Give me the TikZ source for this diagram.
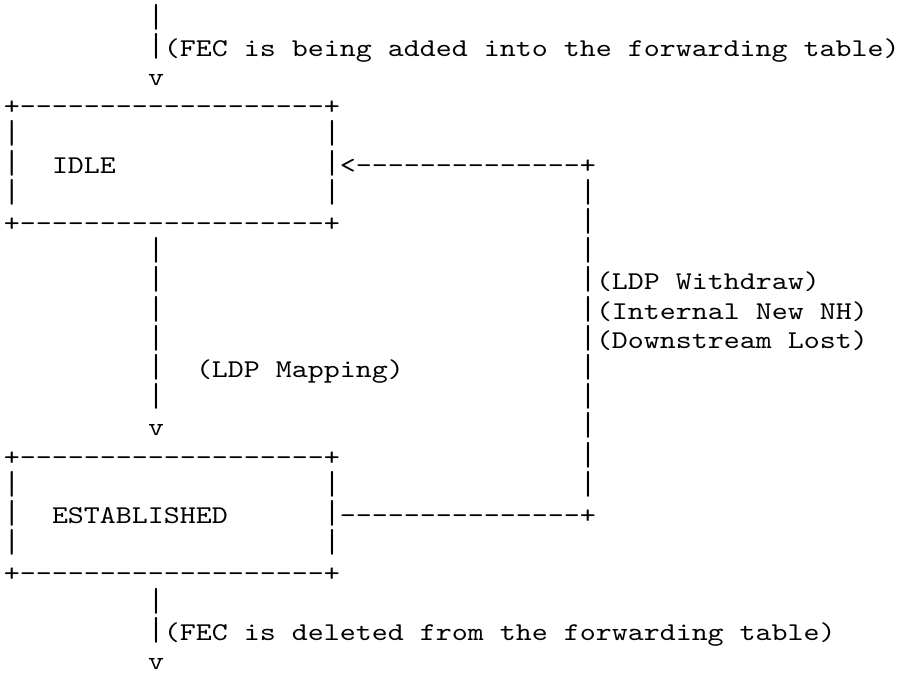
\documentclass[tikz,border=0pt]{standalone}
\usepackage{graphicx}
\usepackage{fontspec}
\setmonofont{lmmono10-regular.otf}[FakeStretch=1.19]
\newcommand{\ascfont}{\ttfamily\fontsize{25.6pt}{29.2pt}\selectfont}
\newcommand{\vb}{\raisebox{0pt}[0.72em][0.1em]{\scalebox{1}[1.3]{|}}}
\tikzset{ascii/.style={anchor=base west, inner sep=0pt, outer sep=0pt, font=\ascfont, text=black}}
% \A{name}{row}{col}{text}
\newcommand{\A}[4]{\node[ascii] (#1) at ({4pt+16pt*#3},{-27pt-29.2pt*#2}) {#4};}
\begin{document}
\begin{tikzpicture}
\useasboundingbox (0,0) rectangle (900pt,-675pt);
\A{a0}{0}{9}{\vb}
\A{a1}{1}{9}{\vb(FEC is being added into the forwarding table)}
\A{a2}{2}{9}{v}
\A{idletop}{3}{0}{+-------------------+}
\A{i4l}{4}{0}{\vb}\A{i4r}{4}{20}{\vb}
\A{i5l}{5}{0}{\vb}\A{idle}{5}{3}{IDLE}\A{i5r}{5}{20}{\vb<--------------+}
\A{i6l}{6}{0}{\vb}\A{i6r}{6}{20}{\vb}\A{r6}{6}{36}{\vb}
\A{idlebot}{7}{0}{+-------------------+}\A{r7}{7}{36}{\vb}
\A{m8}{8}{9}{\vb}\A{r8}{8}{36}{\vb}
\A{m9}{9}{9}{\vb}\A{r9}{9}{36}{\vb(LDP Withdraw)}
\A{m10}{10}{9}{\vb}\A{r10}{10}{36}{\vb(Internal New NH)}
\A{m11}{11}{9}{\vb}\A{r11}{11}{36}{\vb(Downstream Lost)}
\A{m12}{12}{9}{\vb}\A{map}{12}{12}{(LDP Mapping)}\A{r12}{12}{36}{\vb}
\A{m13}{13}{9}{\vb}\A{r13}{13}{36}{\vb}
\A{m14}{14}{9}{v}\A{r14}{14}{36}{\vb}
\A{esttop}{15}{0}{+-------------------+}\A{r15}{15}{36}{\vb}
\A{e16l}{16}{0}{\vb}\A{e16r}{16}{20}{\vb}\A{r16}{16}{36}{\vb}
\A{e17l}{17}{0}{\vb}\A{est}{17}{3}{ESTABLISHED}\A{e17r}{17}{20}{\vb---------------+}
\A{e18l}{18}{0}{\vb}\A{e18r}{18}{20}{\vb}
\A{estbot}{19}{0}{+-------------------+}
\A{b20}{20}{9}{\vb}
\A{b21}{21}{9}{\vb(FEC is deleted from the forwarding table)}
\A{b22}{22}{9}{v}
\end{tikzpicture}
\end{document}
